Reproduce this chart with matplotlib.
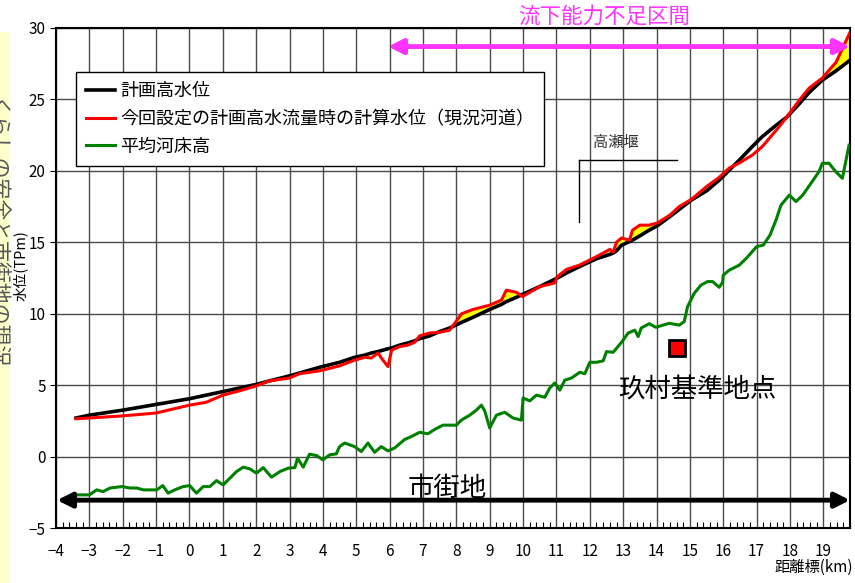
import matplotlib
matplotlib.use("Agg")
import matplotlib.pyplot as plt
from matplotlib.patches import Rectangle
from matplotlib.ticker import MultipleLocator

plt.rcParams['font.family'] = ['Noto Sans CJK JP', 'DejaVu Sans']

# -----------------------------
# Data
# -----------------------------
km_w = [-3.4, -3.0, -2.0, -1.0, 0.0, 0.5, 1.0, 1.5, 2.0, 2.4, 3.0, 3.3, 3.9, 4.5,
        4.95, 5.25, 5.45, 5.65, 5.8, 5.95, 6.06, 6.3, 6.54, 6.75, 6.9, 7.2, 7.5,
        7.8, 8.16, 8.5, 9.0, 9.35, 9.5, 9.8, 9.98, 10.5, 10.94, 11.03, 11.3,
        11.69, 12.2, 12.6, 12.7, 12.8, 12.95, 13.19, 13.28, 13.5, 13.78, 14.02,
        14.4, 14.68, 15.04, 15.5, 15.88, 16.18, 16.48, 16.87, 17.17, 17.59, 17.9,
        18.28, 18.58, 18.97, 19.38, 19.83]

plan_level = [2.7, 2.9, 3.25, 3.65, 4.05, 4.3, 4.55, 4.8, 5.05, 5.3, 5.65, 5.85,
              6.25, 6.6, 6.95, 7.1, 7.25, 7.35, 7.45, 7.55, 7.6, 7.8, 7.95, 8.1,
              8.25, 8.45, 8.75, 9.0, 9.4, 9.75, 10.3, 10.65, 10.85, 11.15, 11.35,
              11.9, 12.4, 12.5, 12.85, 13.3, 13.85, 14.15, 14.25, 14.4, 14.8,
              15.05, 15.15, 15.45, 15.85, 16.15, 16.8, 17.3, 17.95, 18.6, 19.35,
              20.05, 20.75, 21.7, 22.4, 23.2, 23.75, 24.7, 25.5, 26.35, 27.0, 27.8]

calc_level = [2.65, 2.7, 2.85, 3.05, 3.6, 3.8, 4.3, 4.6, 4.95, 5.3, 5.5, 5.8,
              6.0, 6.35, 6.75, 6.95, 6.9, 7.25, 6.75, 6.3, 7.45, 7.7, 7.8, 8.0,
              8.45, 8.65, 8.7, 8.85, 10.0, 10.3, 10.6, 10.95, 11.65, 11.5, 11.2,
              11.9, 12.15, 12.6, 13.1, 13.4, 14.0, 14.5, 14.3, 15.0, 15.3, 15.15,
              15.85, 16.2, 16.2, 16.35, 16.9, 17.5, 18.0, 18.9, 19.55, 20.2,
              20.55, 21.1, 21.7, 22.85, 23.75, 24.95, 25.8, 26.5, 27.6, 29.85]

km_bed = [-3.43, -3.0, -2.78, -2.59, -2.38, -2.03, -1.78, -1.58, -1.38, -0.98,
          -0.8, -0.64, -0.44, -0.19, 0.01, 0.21, 0.41, 0.61, 0.81, 1.01, 1.41,
          1.61, 1.81, 2.01, 2.21, 2.46, 2.71, 2.96, 3.16, 3.24, 3.41, 3.6, 3.81,
          4.0, 4.2, 4.4, 4.5, 4.65, 4.95, 5.15, 5.35, 5.55, 5.75, 5.95, 6.15,
          6.45, 6.65, 6.9, 7.15, 7.35, 7.6, 7.8, 8.0, 8.15, 8.4, 8.6, 8.75,
          8.85, 9.0, 9.2, 9.45, 9.7, 9.95, 10.0, 10.2, 10.4, 10.65, 10.8, 10.95,
          11.1, 11.25, 11.45, 11.7, 11.85, 12.0, 12.2, 12.4, 12.5, 12.7, 12.95,
          13.15, 13.35, 13.45, 13.54, 13.78, 13.98, 14.38, 14.68, 14.83, 14.93,
          15.13, 15.33, 15.53, 15.68, 15.88, 15.98, 16.0, 16.18, 16.48, 16.7,
          17.0, 17.2, 17.4, 17.58, 17.73, 17.98, 18.18, 18.38, 18.63, 18.87,
          18.97, 19.17, 19.37, 19.57, 19.77]

bed_level = [-2.68, -2.68, -2.33, -2.45, -2.2, -2.1, -2.2, -2.2, -2.33, -2.33,
             -2.03, -2.56, -2.33, -2.1, -2.03, -2.56, -2.1, -2.1, -1.68, -1.98,
             -1.05, -0.74, -0.86, -1.16, -0.77, -1.44, -1.05, -0.81, -0.77,
             -0.12, -0.74, 0.17, 0.07, -0.23, 0.12, 0.19, 0.7, 0.95, 0.7, 0.35,
             0.95, 0.3, 0.7, 0.4, 0.6, 1.2, 1.4, 1.7, 1.6, 1.9, 2.2, 2.2, 2.2,
             2.55, 2.9, 3.25, 3.6, 3.2, 2.0, 2.9, 3.1, 2.7, 2.55, 4.1, 3.9, 4.3,
             4.15, 4.8, 5.15, 4.65, 5.35, 5.5, 5.9, 5.8, 6.6, 6.6, 6.7, 7.35,
             7.3, 8.0, 8.65, 8.85, 8.4, 9.0, 9.3, 9.05, 9.33, 9.2, 9.45, 10.5,
             11.43, 12.0, 12.25, 12.25, 11.85, 12.2, 12.7, 13.05, 13.4, 13.9,
             14.7, 14.8, 15.5, 16.55, 17.6, 18.3, 17.85, 18.3, 19.13, 19.95,
             20.53, 20.53, 19.95, 19.48, 21.8]

labels = ['計画高水位', '今回設定の計画高水流量時の計算水位（現況河道）', '平均河床高']

# annotation positions (km, TPm)
shortage_from, shortage_to, shortage_y = 5.95, 19.8, 28.7
urban_from, urban_to, urban_y = -3.97, 19.8, -3.05
station_km, station_y = 14.62, 7.6

# -----------------------------
# Figure
# -----------------------------
fig = plt.figure(figsize=(8.55, 5.83), dpi=100)
fig.patches.append(Rectangle((0, 0.0), 0.012, 0.945, transform=fig.transFigure,
                             facecolor='#FFFFCC', edgecolor='none'))
fig.text(-0.006, 0.6, 'くらしの安全と市街地の現況', rotation=270,
         fontsize=15, color='#555555', ha='center', va='center')

ax = fig.add_axes([0.0655, 0.0943, 0.9287, 0.8577])

ax.fill_between(km_w, plan_level, calc_level,
                where=[c > p for c, p in zip(calc_level, plan_level)],
                interpolate=True, color='#FFFF00', zorder=2)
ax.plot(km_w, plan_level, color='black', lw=2.6, label=labels[0], zorder=3)
ax.plot(km_w, calc_level, color='#FF0000', lw=2.2, label=labels[1], zorder=4)
ax.plot(km_bed, bed_level, color='#008000', lw=2.2, label=labels[2], zorder=4)

ax.set_xlim(-4, 19.8)
ax.set_ylim(-5, 30)
ax.xaxis.set_major_locator(MultipleLocator(1))
ax.xaxis.set_minor_locator(MultipleLocator(0.2))
ax.yaxis.set_major_locator(MultipleLocator(5))
ax.grid(True, which='major', color='#4a4a4a', lw=1.0)
ax.tick_params(axis='x', which='major', direction='in', length=0, labelsize=11, pad=11)
ax.tick_params(axis='x', which='minor', direction='in', length=4, width=0.8)
ax.tick_params(axis='y', direction='out', length=4, labelsize=11)
for s in ax.spines.values():
    s.set_linewidth(1.5)
    s.set_color('black')

leg = ax.legend(loc='upper left', bbox_to_anchor=(0.025, 0.912), borderaxespad=0,
                fontsize=13, frameon=True, fancybox=False, edgecolor='black',
                framealpha=1, handlelength=1.6, handletextpad=0.3,
                labelspacing=0.55, borderpad=0.55)
leg.get_frame().set_linewidth(1.0)

# 流下能力不足区間
ax.annotate('', xy=(shortage_to, shortage_y), xytext=(shortage_from, shortage_y),
            arrowprops=dict(arrowstyle='<|-|>', color='#FF33FF', lw=3.5,
                            mutation_scale=22, shrinkA=0, shrinkB=0),
            annotation_clip=False, zorder=6)
ax.text(12.44, 30.8, '流下能力不足区間', color='#FF33FF', fontsize=15.5,
        ha='center', va='center', clip_on=False)

# 市街地
ax.annotate('', xy=(urban_to, urban_y), xytext=(urban_from, urban_y),
            arrowprops=dict(arrowstyle='<|-|>', color='black', lw=3.5,
                            mutation_scale=22, shrinkA=0, shrinkB=0),
            annotation_clip=False, zorder=6)
ax.text(7.74, -2.25, '市街地', fontsize=19, ha='center', va='center', zorder=5)

# 玖村基準地点
ax.plot([station_km], [station_y], marker='s', markersize=12, color='#FF0000',
        markeredgecolor='black', markeredgewidth=2, zorder=6)
ax.text(15.22, 4.67, '玖村基準地点', fontsize=19, ha='center', va='center', zorder=6)

# 高瀬堰
ax.text(12.77, 21.95, '高瀬堰', fontsize=11, ha='center', va='center', color='#333333')
ax.plot([11.69, 14.6], [20.76, 20.76], color='black', lw=1.0, zorder=3)
ax.plot([11.69, 11.69], [20.76, 16.4], color='black', lw=1.0, zorder=3)

fig.text(0.024, 0.545, '水位(TPm)', rotation=90, fontsize=10.5, ha='center', va='center')
fig.text(0.952, 0.012, '距離標(km)', fontsize=11, ha='center', va='bottom')

fig.savefig("out.png", dpi=100)
